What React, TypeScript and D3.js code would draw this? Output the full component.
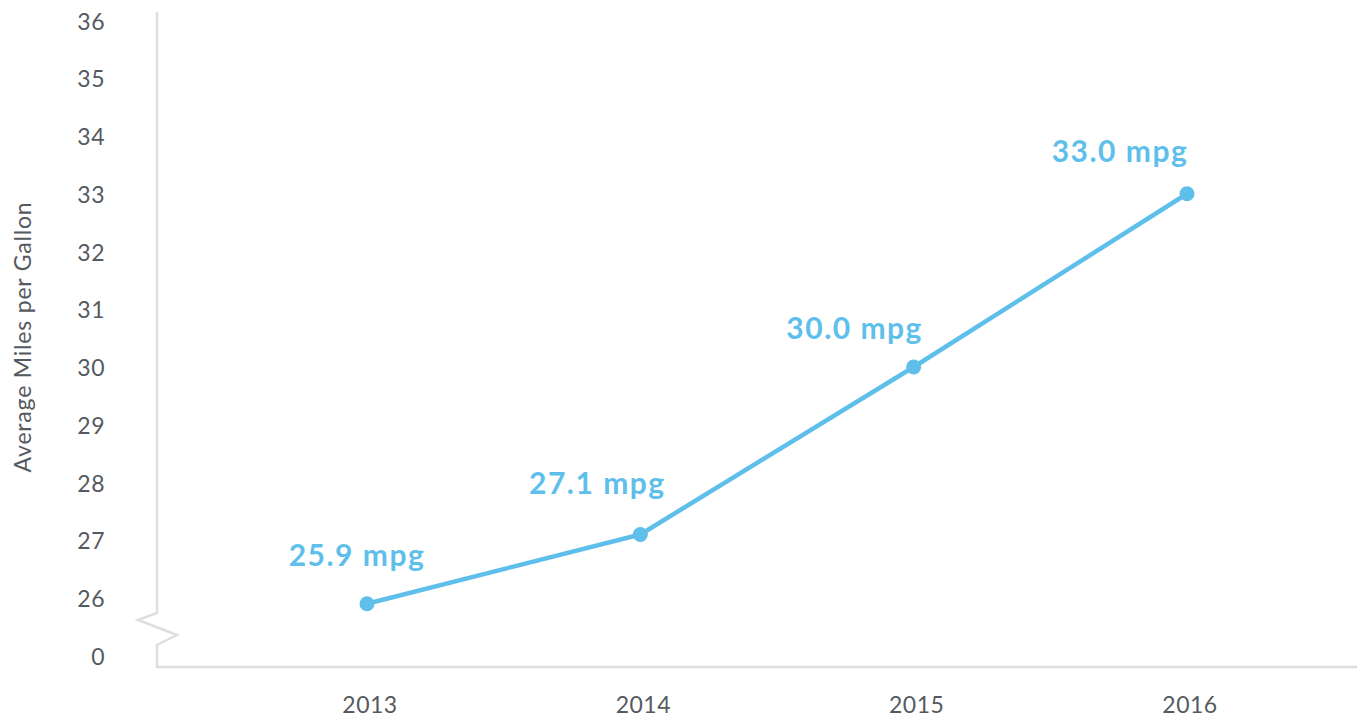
import React from "react";
import * as d3 from "d3";

const years = ["2013", "2014", "2015", "2016"];
const mpgValues = [25.9, 27.1, 30.0, 33.0];
const yTickValues = [25, 26, 27, 28, 29, 30, 31, 32, 33, 34, 35, 36];
const yTickLabels = ["0", "26", "27", "28", "29", "30", "31", "32", "33", "34", "35", "36"];
const yAxisTitle = "Average Miles per Gallon";
const labelSuffix = " mpg";

const W = 1360;
const H = 719;
const BLUE = "#5fbfeb";
const AXIS = "#dedede";
const TEXT = "#555a60";
const FONT = "Lato, 'Open Sans', sans-serif";

export default function App() {
  const x = d3.scalePoint<string>().domain(years).range([367, 1187]);
  const y = d3.scaleLinear().domain([25, 36]).range([655.75, 20.5]);

  const axisX = 157;
  const baseY = 667;

  const line = d3
    .line<number>()
    .x((_, i) => x(years[i]) as number)
    .y((d) => y(d));

  const breakTop = 613;
  const brk = d3.path();
  brk.moveTo(axisX, 12);
  brk.lineTo(axisX, breakTop);
  brk.lineTo(axisX - 19, breakTop + 7);
  brk.lineTo(axisX + 20, breakTop + 22);
  brk.lineTo(axisX, breakTop + 32);
  brk.lineTo(axisX, baseY);
  brk.lineTo(1357, baseY);

  const labelOffsets = [
    [-10, -38],
    [-43, -40],
    [-59, -28],
    [-67, -32],
  ];

  return (
    <svg
      width={W}
      height={H}
      style={{ position: "absolute", left: 0, top: 0, background: "#fff" }}
    >
      <path d={brk.toString()} fill="none" stroke={AXIS} strokeWidth={2.5} />
      {yTickValues.map((v, i) => (
        <text
          key={v}
          x={105}
          y={y(v)}
          textAnchor="end"
          dominantBaseline="central"
          fontFamily={FONT}
          fontSize={23}
          letterSpacing={0.5}
          fill={TEXT}
        >
          {yTickLabels[i]}
        </text>
      ))}
      {years.map((yr) => (
        <text
          key={yr}
          x={(x(yr) as number) + 3}
          y={704}
          textAnchor="middle"
          dominantBaseline="central"
          fontFamily={FONT}
          fontSize={23}
          letterSpacing={0.5}
          fill={TEXT}
        >
          {yr}
        </text>
      ))}
      <text
        transform={`translate(22,337) rotate(-90)`}
        textAnchor="middle"
        dominantBaseline="central"
        fontFamily={FONT}
        fontSize={23}
        letterSpacing={0.8}
        fill={TEXT}
      >
        {yAxisTitle}
      </text>
      <path
        d={line(mpgValues) || ""}
        fill="none"
        stroke={BLUE}
        strokeWidth={4.5}
        strokeLinejoin="round"
      />
      {mpgValues.map((v, i) => (
        <circle key={i} cx={x(years[i]) as number} cy={y(v)} r={7.5} fill={BLUE} />
      ))}
      {mpgValues.map((v, i) => (
        <text
          key={"l" + i}
          x={(x(years[i]) as number) + labelOffsets[i][0]}
          y={y(v) + labelOffsets[i][1]}
          textAnchor="middle"
          fontFamily={FONT}
          fontWeight={700}
          fontSize={30}
          letterSpacing={1.5}
          fill={BLUE}
        >
          {v.toFixed(1) + labelSuffix}
        </text>
      ))}
    </svg>
  );
}
